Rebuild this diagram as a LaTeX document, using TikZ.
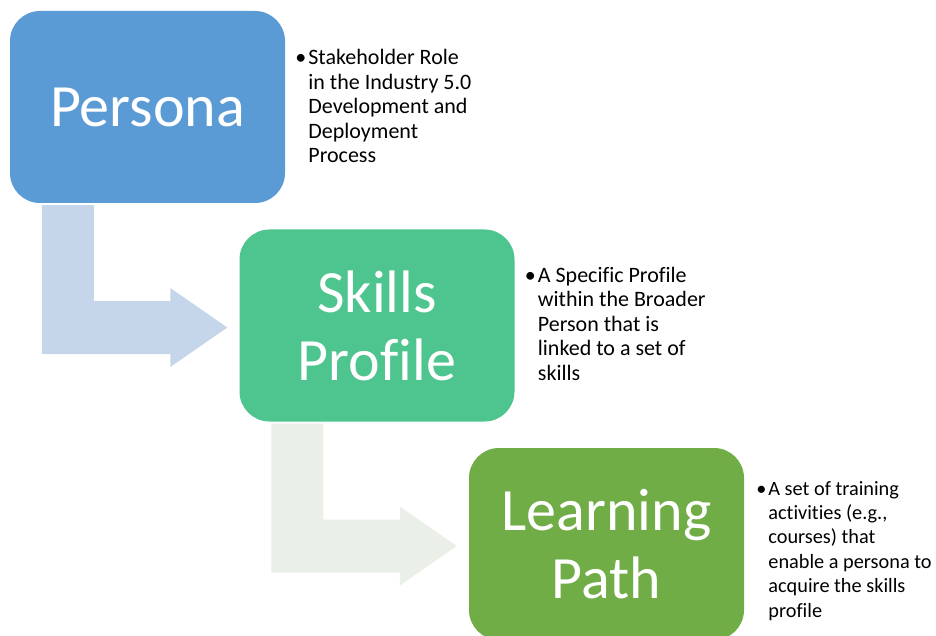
\documentclass[tikz,border=0pt]{standalone}
\usepackage{fontspec}
\setmainfont[Ligatures=NoCommon]{Carlito}
\usetikzlibrary{calc}

\definecolor{personablue}{HTML}{5B9BD5}
\definecolor{skillsgreen}{HTML}{4EC48E}
\definecolor{pathgreen}{HTML}{70AD47}
\definecolor{arrowblue}{HTML}{C5D5EA}
\definecolor{arrowgreen}{HTML}{EAEFE8}

\tikzset{
  stagebox/.style={rounded corners=30pt, minimum width=275pt, minimum height=192pt,
    inner sep=0pt, text=white, align=center,
    font=\fontsize{60}{68}\selectfont},
  desc/.style={anchor=north west, inner sep=0pt, align=left,
    font=\fontsize{22}{24.4}\selectfont},
}

% bullet in the left margin, with a strut fixing the first line's top
\newcommand\bul{\rule{0pt}{16pt}\llap{\textbullet\kern2pt}}

% bent block arrow from the bottom of one stage to the side of the next
\newcommand\bendarrow[3]{%
  \coordinate (a1) at ($(#1.south west)+(32,2)$);
  \coordinate (a2) at ($(#1.south west)+(84,2)$);
  \coordinate (tip) at ($(#2.west)+(-12,2)$);
  \coordinate (bu) at ($(tip)+(0,-26.5)$);
  \coordinate (bd) at ($(tip)+(0,26.5)$);
  \coordinate (hu) at ($(tip)+(-57,-39.5)$);
  \coordinate (hd) at ($(tip)+(-57,39.5)$);
  \fill[#3] (a1) -- (a2) -- (a2 |- bu) -- (hu |- bu) -- (hu) -- (tip)
    -- (hd) -- (hd |- bd) -- (a1 |- bd) -- cycle;
}

\begin{document}
\begin{tikzpicture}[x=1pt, y=-1pt]
  \useasboundingbox (0,0) rectangle (936,636);
  \clip (0,0) rectangle (936,636);

  % stages
  \node[stagebox, fill=personablue] (persona) at (147.5,107) {Persona};
  \node[stagebox, fill=skillsgreen] (skills) at (377,325.5) {Skills\\Profile};
  \node[stagebox, fill=pathgreen] (path) at (606.5,544) {Learning\\Path};

  % connectors between stages
  \bendarrow{persona}{skills}{arrowblue}
  \bendarrow{skills}{path}{arrowgreen}

  % descriptions
  \node[desc] (pdesc) at ($(persona.north east)+(23,38)$)
    {\bul Stakeholder Role\\in the Industry 5.0\\Development and\\Deployment\\Process};
  \node[desc] (sdesc) at ($(skills.north east)+(23,37)$)
    {\bul A Specific Profile\\within the Broader\\Person that is\\linked to a set of\\skills};
  \node[desc, font=\fontsize{20.3}{24.4}\selectfont] (ldesc) at ($(path.north east)+(24,31)$)
    {\bul A set of training\\activities (e.g.,\\courses) that\\enable a persona to\\acquire the skills\\profile};
\end{tikzpicture}
\end{document}
